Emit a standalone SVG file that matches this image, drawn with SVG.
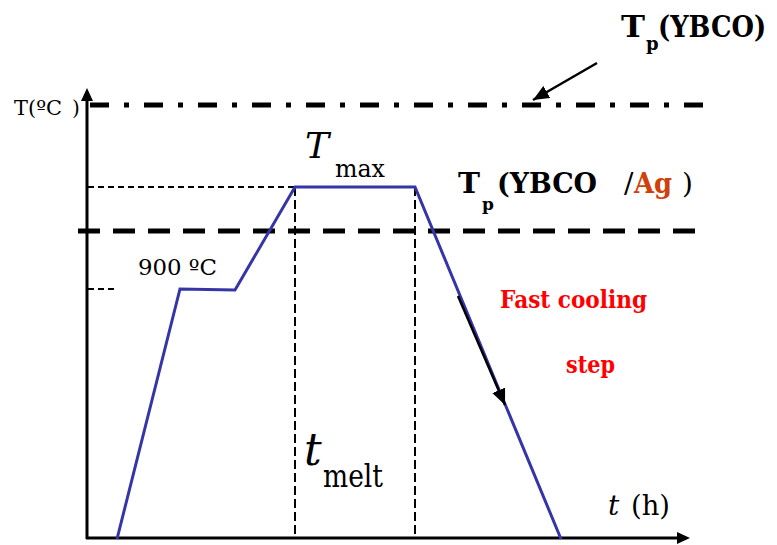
<svg xmlns="http://www.w3.org/2000/svg" width="777" height="545" viewBox="0 0 777 545">
<style>
text{font-family:'DejaVu Serif','Liberation Serif','Times New Roman',serif}
.b{font-weight:bold}
.i{font-style:italic}
.red{fill:#ff0000}
.ag{fill:#d0400a}
.ax{stroke:#000;stroke-width:3;fill:none}
.curve{stroke:#3535a8;stroke-width:3;fill:none;stroke-linejoin:miter}
.thin{stroke:#000;stroke-width:2;stroke-dasharray:6 4;fill:none}
.vthin{stroke:#000;stroke-width:2;stroke-dasharray:9 4;fill:none}
</style>
<defs>
<marker id="ah2" markerWidth="16" markerHeight="14" refX="16" refY="7" orient="auto" markerUnits="userSpaceOnUse">
<path d="M0,0 L16,7 L0,14 Z" fill="#000"/>
</marker>
</defs>
<rect width="777" height="545" fill="#fff"/>

<g id="axes">
<line class="ax" x1="87" y1="539" x2="87" y2="100"/>
<path d="M87,88 L93,101 L81,101 Z" fill="#000"/>
<line class="ax" x1="86" y1="538" x2="678" y2="538"/>
<path d="M690,538 L677,532 L677,544 Z" fill="#000"/>
</g>

<g id="reference-lines">
<line x1="90" y1="105" x2="706" y2="105" stroke="#000" stroke-width="5" stroke-dasharray="19 15 5 15"/>
<line x1="78" y1="231" x2="706" y2="231" stroke="#000" stroke-width="5" stroke-dasharray="22 13"/>
<line class="thin" x1="88" y1="187" x2="295" y2="187"/>
<line class="thin" x1="88" y1="289" x2="116" y2="289"/>
<line class="vthin" x1="295" y1="187" x2="295" y2="537"/>
<line class="vthin" x1="415" y1="187" x2="415" y2="537"/>
</g>

<g id="profile">
<polyline class="curve" points="117,539 180,289 235,290 295,187 415,187 561,539"/>
</g>

<g id="connectors">
<line x1="597" y1="63" x2="533" y2="100" stroke="#000" stroke-width="2.5" marker-end="url(#ah2)"/>
<line x1="458" y1="296" x2="505" y2="405" stroke="#000" stroke-width="2.5" marker-end="url(#ah2)"/>
</g>

<g id="label-yaxis">
<text x="14" y="115" font-size="20" textLength="48" lengthAdjust="spacingAndGlyphs">T(ºC</text>
<text x="72" y="115" font-size="20">)</text>
</g>

<g id="label-tp-ybco">
<text class="b" x="621" y="37" font-size="30" textLength="24" lengthAdjust="spacingAndGlyphs">T</text>
<text class="b" x="646" y="50" font-size="18">p</text>
<text class="b" font-size="30" transform="translate(658,37) scale(0.86,1)">(YBCO)</text>
</g>

<g id="label-tp-ybco-ag">
<text class="b" x="458" y="193" font-size="28" textLength="22" lengthAdjust="spacingAndGlyphs">T</text>
<text class="b" x="482" y="210" font-size="17">p</text>
<text class="b" x="497" y="193" font-size="28" textLength="100" lengthAdjust="spacingAndGlyphs">(YBCO</text>
<text x="624" y="193" font-size="28">/</text>
<text class="b ag" x="634" y="193" font-size="28" textLength="38" lengthAdjust="spacingAndGlyphs">Ag</text>
<text x="682" y="193" font-size="28">)</text>
</g>

<g id="label-tmax">
<text class="i" x="305" y="158" font-size="36">T</text>
<text x="335" y="177" font-size="24" textLength="50" lengthAdjust="spacingAndGlyphs">max</text>
</g>

<g id="label-900">
<text x="138" y="275" font-size="22" textLength="79" lengthAdjust="spacingAndGlyphs">900 ºC</text>
</g>

<g id="label-fast-cooling">
<text class="b red" x="500" y="308" font-size="25" textLength="147" lengthAdjust="spacingAndGlyphs">Fast cooling</text>
<text class="b red" x="566" y="373" font-size="25" textLength="49" lengthAdjust="spacingAndGlyphs">step</text>
</g>

<g id="label-tmelt">
<text class="i" x="304" y="465" font-size="44">t</text>
<text x="323" y="487" font-size="32" textLength="60" lengthAdjust="spacingAndGlyphs">melt</text>
</g>

<g id="label-xaxis">
<text class="i" x="608" y="515" font-size="28">t</text>
<text x="631" y="515" font-size="28" textLength="39" lengthAdjust="spacingAndGlyphs">(h)</text>
</g>
</svg>
